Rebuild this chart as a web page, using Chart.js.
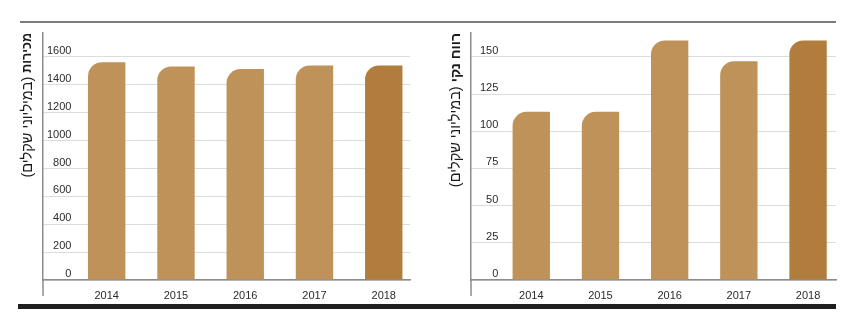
<!DOCTYPE html>
<html>
<head>
<meta charset="utf-8">
<script src="https://cdn.jsdelivr.net/npm/chart.js@4.4.1/dist/chart.umd.min.js"></script>
<style>
  html, body { margin: 0; padding: 0; background: #fff; }
  #wrap { position: relative; width: 850px; height: 325px; overflow: hidden; }
  canvas { position: absolute; top: 0; }
  #sales { left: 0; }
  #profit { left: 425px; }
  .rule-top { position: absolute; left: 20px; width: 816px; top: 21px; height: 2px; background: #7b7b7b; }
  .rule-bottom { position: absolute; left: 18px; width: 818px; top: 304px; height: 5px; background: #1f1f1f; }
</style>
</head>
<body>
<div id="wrap">
  <canvas id="sales" width="425" height="325"></canvas>
  <canvas id="profit" width="425" height="325"></canvas>
  <div class="rule-top"></div>
  <div class="rule-bottom"></div>
</div>
<script>
// Years shown on both charts
const years = ['2014', '2015', '2016', '2017', '2018'];

// Sales, NIS millions
const salesValues = [1563, 1532, 1513, 1539, 1539];
const salesTicks = [0, 200, 400, 600, 800, 1000, 1200, 1400, 1600];
const salesTitle = ['מכירות', '(במיליוני שקלים)'];

// Net profit, NIS millions
const profitValues = [113, 113, 161, 147, 161];
const profitTicks = [0, 25, 50, 75, 100, 125, 150];
const profitTitle = ['רווח נקי', '(במיליוני שקלים)'];

const BAR = '#bf925a';
const BAR_LAST = '#b07d3c';
const AXIS = '#8c8c8c';
const GRID = '#b9b9b9';
const TEXT = '#2b2b2b';
const FONT = "'Liberation Sans', 'DejaVu Sans', sans-serif";

// Vertical title on the left of the plot: bold name, then units in regular weight
const sideTitle = {
  id: 'sideTitle',
  afterDraw(chart, args, opts) {
    const { ctx, chartArea } = chart;
    ctx.save();
    ctx.translate(chartArea.left - opts.gap, chartArea.top);
    ctx.rotate(-Math.PI / 2);
    ctx.direction = 'rtl';
    ctx.textAlign = 'right';
    ctx.textBaseline = 'middle';
    ctx.fillStyle = '#1a1a1a';
    ctx.font = 'bold ' + opts.boldSize + 'px ' + FONT;
    ctx.fillText(opts.text[0], 0, 0);
    const w = ctx.measureText(opts.text[0]).width + 4;
    ctx.font = opts.size + 'px ' + FONT;
    ctx.fillText(opts.text[1], -w, 0);
    ctx.restore();
  }
};

// The value axis line runs a little past the category axis
const axisTail = {
  id: 'axisTail',
  afterDraw(chart, args, opts) {
    const { ctx, chartArea } = chart;
    ctx.save();
    ctx.strokeStyle = AXIS;
    ctx.lineWidth = 1.5;
    ctx.beginPath();
    ctx.moveTo(chartArea.left, chartArea.bottom);
    ctx.lineTo(chartArea.left, chartArea.bottom + opts.length);
    ctx.stroke();
    ctx.restore();
  }
};

function makeChart(id, values, ticks, title, cfg) {
  const points = values.map((v, i) => ({ x: i, y: v }));
  return new Chart(document.getElementById(id), {
    type: 'bar',
    data: {
      datasets: [{
        data: points,
        backgroundColor: values.map((v, i) => i === values.length - 1 ? BAR_LAST : BAR),
        borderWidth: 0,
        borderRadius: { topLeft: 14, topRight: 0, bottomLeft: 0, bottomRight: 0 },
        borderSkipped: 'start',
        barPercentage: 0.54,
        categoryPercentage: 1
      }]
    },
    options: {
      responsive: false,
      animation: false,
      devicePixelRatio: 1,
      layout: { padding: { left: cfg.left, right: cfg.right, top: 33, bottom: 0 } },
      plugins: {
        legend: { display: false },
        tooltip: { enabled: false },
        sideTitle: { text: title, gap: 15, boldSize: cfg.boldSize, size: 14.5 },
        axisTail: { length: 16 }
      },
      scales: {
        x: {
          type: 'linear',
          offset: false,
          min: cfg.xMin,
          max: cfg.xMax,
          afterBuildTicks: s => { s.ticks = years.map((y, i) => ({ value: i })); },
          afterFit: s => { s.height = 45; },
          grid: { display: false, drawTicks: false },
          border: { display: true, color: AXIS, width: 1.5 },
          ticks: {
            padding: 9,
            color: TEXT,
            font: { family: FONT, size: 11 },
            callback: v => years[v]
          }
        },
        y: {
          min: 0,
          max: cfg.yMax,
          afterBuildTicks: s => { s.ticks = ticks.map(v => ({ value: v })); },
          afterFit: s => { s.width = 0; },
          grid: { color: GRID, lineWidth: 1, drawTicks: false },
          border: { display: true, color: AXIS, width: 1.5, dash: [1, 1] },
          ticks: {
            mirror: true,
            crossAlign: 'far',
            padding: cfg.tickPad,
            labelOffset: -6,
            color: TEXT,
            font: { family: FONT, size: 11 },
            callback: v => String(v)
          }
        }
      }
    },
    plugins: [sideTitle, axisTail]
  });
}

makeChart('sales', salesValues, salesTicks, salesTitle,
  { left: 43, right: 15, xMin: -0.92, xMax: 4.379, yMax: 1772, tickPad: 4, boldSize: 12.5 });
makeChart('profit', profitValues, profitTicks, profitTitle,
  { left: 46, right: 14, xMin: -0.871, xMax: 4.404, yMax: 166, tickPad: 9, boldSize: 14 });
</script>
</body>
</html>
